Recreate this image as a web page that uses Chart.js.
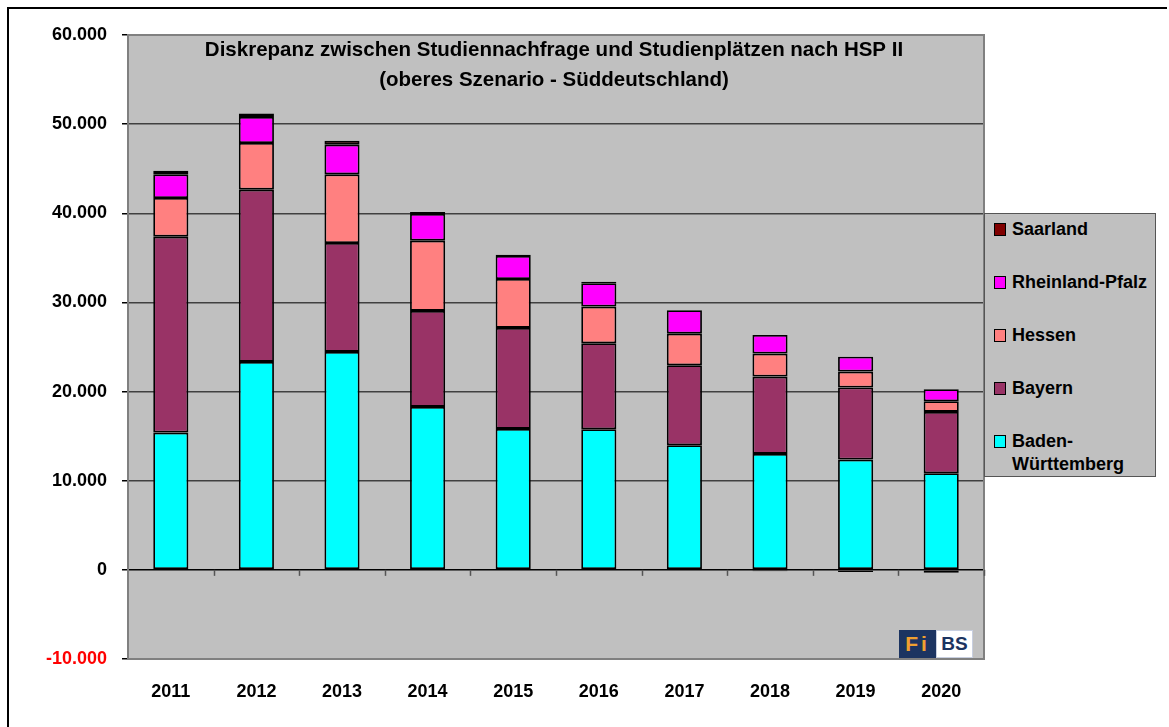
<!DOCTYPE html>
<html>
<head>
<meta charset="utf-8">
<script src="https://cdn.jsdelivr.net/npm/chart.js@4.4.1/dist/chart.umd.min.js"></script>
<style>
  body { margin: 0; background: #fff; font-family: "Liberation Sans", Arial, sans-serif; }
  #wrap { position: relative; width: 1169px; height: 727px; }
  #legend {
    position: absolute; left: 984px; top: 213px; width: 172px; height: 264px;
    box-sizing: border-box; background: #c0c0c0; border: 1px solid #555; padding-top: 4px;
  }
  .item { display: flex; align-items: flex-start; height: 53px; }
  .box { width: 10px; height: 11px; border: 1px solid #000; margin: 5px 6px 0 9px; flex: none; }
  .txt { font: bold 18px/23px "Liberation Sans", Arial, sans-serif; color: #000; width: 145px; }
  #logo { position: absolute; left: 899px; top: 630px; width: 74px; height: 28px; display: flex; }
  #logo .fi { width: 37px; background: #1c3461; color: #f0a030; font: bold 21px/28px "Liberation Sans", Arial, sans-serif; text-align: center; letter-spacing: 3px; }
  #logo .bs { width: 35px; background: #fff; border: 1px solid #c8cfe0; color: #1c3461; font: bold 19px/26px "Liberation Sans", Arial, sans-serif; text-align: center; }
</style>
</head>
<body>
<div id="wrap">
  <canvas id="chart" width="1169" height="727"></canvas>
  <div id="legend"></div>
  <div id="logo"><div class="fi">Fi</div><div class="bs">BS</div></div>
</div>
<script>
// --- data ---
const years = ['2011', '2012', '2013', '2014', '2015', '2016', '2017', '2018', '2019', '2020'];
const badenWuerttemberg = [15400, 23330, 24450, 18280, 15810, 15780, 13980, 13010, 12370, 10840];
const bayern = [21980, 19320, 12220, 10770, 11330, 9640, 8970, 8670, 8080, 6880];
const hessen = [4340, 5240, 7700, 7880, 5490, 4110, 3550, 2580, 1790, 1200];
const rheinlandPfalz = [2650, 2910, 3330, 2990, 2580, 2620, 2620, 2090, 1680, 1340];
const saarland = [410, 380, 450, 230, 150, 180, 0, -150, -250, -330];

const seriesNames = ['Baden-Württemberg', 'Bayern', 'Hessen', 'Rheinland-Pfalz', 'Saarland'];
const seriesColors = ['#00ffff', '#993366', '#ff8080', '#ff00ff', '#800000'];
const seriesData = [badenWuerttemberg, bayern, hessen, rheinlandPfalz, saarland];

const titleLines = ['Diskrepanz zwischen Studiennachfrage und Studienplätzen nach HSP II',
                    '(oberes Szenario - Süddeutschland)'];

const FONT = '"Liberation Sans", Arial, sans-serif';

// background, frame, title and the little ticks on the zero line
const decor = {
  id: 'decor',
  beforeDraw(chart) {
    const { ctx, chartArea: a } = chart;
    ctx.save();
    ctx.fillStyle = '#c0c0c0';
    ctx.fillRect(a.left, a.top, a.right - a.left, a.bottom - a.top);
    ctx.strokeStyle = '#000';
    ctx.lineWidth = 2;
    ctx.beginPath();
    ctx.moveTo(8, 727); ctx.lineTo(8, 8); ctx.lineTo(1167, 8);
    ctx.stroke();
    ctx.restore();
  },
  beforeDatasetsDraw(chart) {
    const { ctx, chartArea: a, scales } = chart;
    const y0 = scales.y.getPixelForValue(0);
    const step = (scales.x.right - scales.x.left) / years.length;
    ctx.save();
    ctx.strokeStyle = '#808080';
    ctx.lineWidth = 2;
    ctx.strokeRect(a.left, a.top, a.right - a.left, a.bottom - a.top);
    ctx.strokeStyle = '#555';
    ctx.lineWidth = 1.5;
    for (let i = 1; i <= years.length; i++) {
      const x = Math.round(scales.x.left + i * step) + 0.5;
      ctx.beginPath(); ctx.moveTo(x, y0); ctx.lineTo(x, y0 + 6); ctx.stroke();
    }
    ctx.restore();
  },
  afterDraw(chart) {
    const { ctx, chartArea: a } = chart;
    ctx.save();
    ctx.fillStyle = '#000';
    ctx.font = 'bold 20.5px ' + FONT;
    ctx.textAlign = 'center';
    ctx.textBaseline = 'middle';
    const cx = (a.left + a.right) / 2 - 2;
    titleLines.forEach((t, i) => ctx.fillText(t, cx, 50 + i * 30));
    ctx.restore();
  }
};

new Chart(document.getElementById('chart'), {
  type: 'bar',
  data: {
    labels: years,
    datasets: seriesNames.map((name, i) => ({
      label: name,
      data: seriesData[i],
      backgroundColor: seriesColors[i]
    }))
  },
  options: {
    responsive: false,
    animation: false,
    layout: { padding: { top: 35, right: 185, left: 0, bottom: 0 } },
    datasets: {
      bar: { barPercentage: 0.41, categoryPercentage: 1, borderColor: '#000', borderWidth: 1.8, borderSkipped: false }
    },
    plugins: { legend: { display: false }, tooltip: { enabled: false } },
    scales: {
      x: {
        stacked: true,
        grid: { display: false },
        border: { display: false },
        ticks: { color: '#000', font: { family: FONT, size: 18, weight: 'bold' }, padding: 14 },
        afterFit(s) { s.height = 68; }
      },
      y: {
        stacked: true,
        min: -10000,
        max: 60000,
        ticks: {
          stepSize: 10000,
          padding: 15,
          color: c => c.tick.value < 0 ? '#ff0000' : '#000',
          font: { family: FONT, size: 18, weight: 'bold' },
          callback: v => v.toLocaleString('de-DE')
        },
        grid: {
          color: c => c.tick.value === 0 ? '#000' : (c.tick.value === -10000 || c.tick.value === 60000 ? '#808080' : '#404040'),
          lineWidth: 1.5,
          tickLength: 6,
          tickColor: '#000'
        },
        border: { color: '#555', width: 2 },
        afterFit(s) { s.width = 128; }
      }
    }
  },
  plugins: [decor]
});

// legend, top item first (reverse stacking order)
const legend = document.getElementById('legend');
for (let i = seriesNames.length - 1; i >= 0; i--) {
  const item = document.createElement('div');
  item.className = 'item';
  item.innerHTML = '<div class="box" style="background:' + seriesColors[i] + '"></div><div class="txt"></div>';
  item.querySelector('.txt').textContent = seriesNames[i];
  legend.appendChild(item);
}
</script>
</body>
</html>
